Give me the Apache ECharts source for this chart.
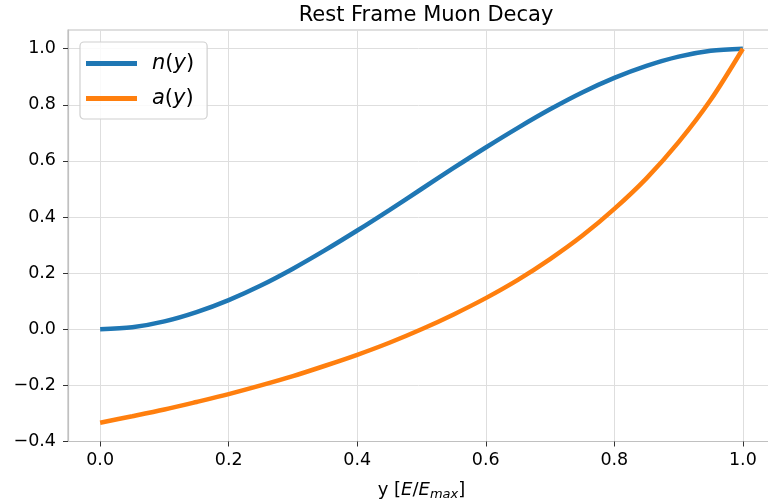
<!DOCTYPE html>
<html>
<head>
<meta charset="utf-8">
<script src="https://cdn.jsdelivr.net/npm/echarts@6/dist/echarts.min.js"></script>
<style>
html,body{margin:0;padding:0;background:#fff;}
#chart{width:768px;height:503px;}
</style>
</head>
<body>
<div id="chart"></div>
<script>
// Data
const yValues = [0, 0.05, 0.1, 0.15, 0.2, 0.25, 0.3, 0.35, 0.4, 0.45, 0.5, 0.55, 0.6, 0.65, 0.7, 0.75, 0.8, 0.85, 0.9, 0.95, 1.0];
const nValues = [0, 0.007, 0.028, 0.061, 0.104, 0.156, 0.216, 0.282, 0.352, 0.425, 0.5, 0.575, 0.648, 0.718, 0.784, 0.844, 0.896, 0.939, 0.972, 0.993, 1.0];
const aValues = [-0.333, -0.310, -0.286, -0.259, -0.231, -0.2, -0.167, -0.130, -0.091, -0.048, 0, 0.053, 0.111, 0.176, 0.25, 0.333, 0.429, 0.538, 0.667, 0.818, 1.0];
const xTicks = [0.0, 0.2, 0.4, 0.6, 0.8, 1.0];
const yTicks = [-0.4, -0.2, 0.0, 0.2, 0.4, 0.6, 0.8, 1.0];
const seriesNames = ['n(y)', 'a(y)'];

const FONT = 'DejaVu Sans';
const chart = echarts.init(document.getElementById('chart'), null, {renderer: 'canvas'});

function pairs(xs, ys) { return xs.map((x, i) => [x, ys[i]]); }
function fmt(v) { return v.toFixed(1).replace('-', '\u2212'); }

const italic = {fontFamily: FONT, fontStyle: 'italic', fontSize: 18, color: '#000'};
const roman = {fontFamily: FONT, fontSize: 18, color: '#000'};

chart.setOption({
  animation: false,
  backgroundColor: '#fff',
  title: {
    text: 'Rest Frame Muon Decay',
    left: 421, top: 0, textAlign: 'center',
    textStyle: {fontFamily: FONT, fontSize: 21, fontWeight: 'normal', color: '#000'}
  },
  grid: {left: 68, width: 707, top: 30, height: 411.5, show: true, borderColor: '#c0c0c0', borderWidth: 1.2,
         containLabel: false, outerBoundsMode: 'none'},
  legend: {
    orient: 'vertical',
    left: 80, top: 42,
    padding: [11, 13, 10, 6],
    itemWidth: 51, itemHeight: 5, itemGap: 14,
    icon: 'rect',
    backgroundColor: 'rgba(255,255,255,0.85)',
    borderColor: '#d0d0d0', borderWidth: 1.2, borderRadius: 4,
    data: seriesNames,
    formatter: function (name) {
      const f = name.charAt(0);
      return '{i|' + f + '}{r|(}{i|y}{r|)}';
    },
    textStyle: {
      padding: [0, 0, 0, 10],
      rich: {
        i: {fontFamily: FONT, fontStyle: 'italic', fontSize: 21, color: '#000', lineHeight: 22},
        r: {fontFamily: FONT, fontSize: 21, color: '#000', lineHeight: 22}
      }
    }
  },
  xAxis: {
    type: 'value', min: -0.05, max: 1.05,
    name: '{r|y [}{i|E}{r|/}{i|E}{s|max}{r|]}',
    nameLocation: 'middle', nameGap: 38,
    nameTextStyle: {
      rich: {
        r: Object.assign({}, roman, {lineHeight: 22}),
        i: Object.assign({}, italic, {lineHeight: 22}),
        s: {fontFamily: FONT, fontStyle: 'italic', fontSize: 13, color: '#000', lineHeight: 22, padding: [8, 0, 0, 0]}
      }
    },
    axisLine: {show: true, onZero: false, lineStyle: {color: '#c0c0c0', width: 1.2}},
    axisTick: {show: true, length: 5, customValues: xTicks, lineStyle: {color: '#333', width: 1}},
    axisLabel: {customValues: xTicks, formatter: fmt, fontFamily: FONT, fontSize: 17.5, color: '#000', margin: 10},
    splitLine: {show: true, lineStyle: {color: '#dedede', width: 1}}
  },
  yAxis: {
    type: 'value', min: -0.4, max: 1.0667,
    axisLine: {show: true, onZero: false, lineStyle: {color: '#c0c0c0', width: 1.2}},
    axisTick: {show: true, length: 5, customValues: yTicks, lineStyle: {color: '#333', width: 1}},
    axisLabel: {customValues: yTicks, formatter: fmt, fontFamily: FONT, fontSize: 17.5, color: '#000', margin: 12},
    splitLine: {show: true, lineStyle: {color: '#dedede', width: 1}}
  },
  series: [
    {name: seriesNames[0], type: 'line', data: pairs(yValues, nValues), smooth: 0.3, showSymbol: false, symbol: 'none',
     lineStyle: {color: '#1f77b4', width: 4.5}, itemStyle: {color: '#1f77b4'}},
    {name: seriesNames[1], type: 'line', data: pairs(yValues, aValues), smooth: 0.3, showSymbol: false, symbol: 'none',
     lineStyle: {color: '#ff7f0e', width: 4.5}, itemStyle: {color: '#ff7f0e'}}
  ]
});
</script>
</body>
</html>
